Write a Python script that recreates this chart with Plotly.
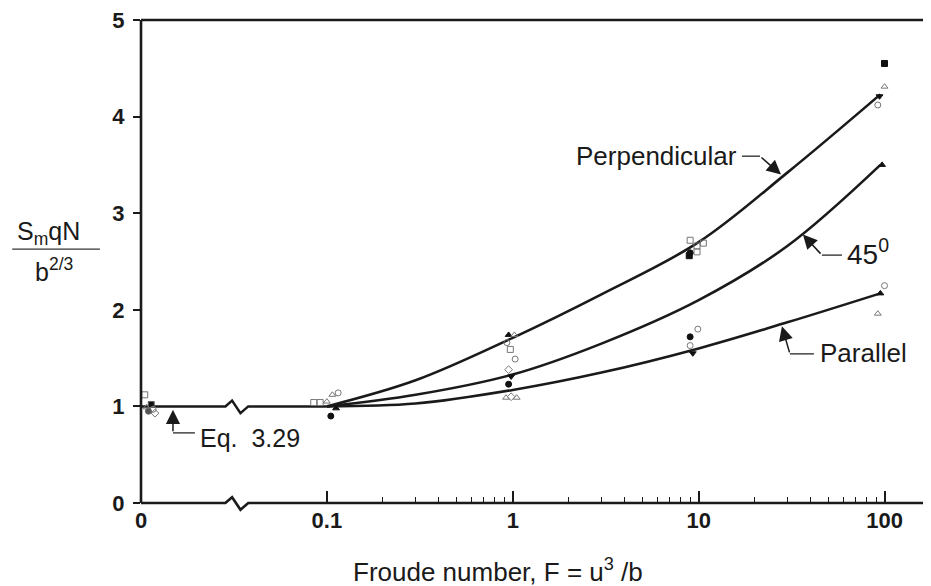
import numpy as np
import plotly.graph_objects as go

# ---------------- data ----------------
# fitted curves (Froude number F, S_m q N / b^(2/3))
F_nodes = [0.1, 0.3, 1, 3, 10, 30, 95]
perp_y = [1.0, 1.27, 1.71, 2.16, 2.70, 3.42, 4.23]
deg45_y = [1.0, 1.12, 1.33, 1.65, 2.10, 2.66, 3.50]
par_y = [1.0, 1.03, 1.17, 1.35, 1.60, 1.87, 2.17]

eq_level = 1.0          # Eq. 3.29 plateau value

x_tick_F = [0, 0.1, 1, 10, 100]
x_tick_labels = ["0", "0.1", "1", "10", "100"]
y_tick_vals = [0, 1, 2, 3, 4, 5]

# observations by marker type
sq_filled_F = [8.9, 100]
sq_filled_y = [2.56, 4.55]
sq_open_F = [0.085, 0.092, 0.97, 9.0, 10.6, 9.8, 9.8]
sq_open_y = [1.04, 1.04, 1.59, 2.72, 2.69, 2.66, 2.60]
circ_filled_F = [0.105, 0.95, 9.0, 9.0]
circ_filled_y = [0.90, 1.23, 2.59, 1.72]
circ_open_F = [0.115, 0.93, 1.03, 9.9, 9.0, 92, 100]
circ_open_y = [1.14, 1.66, 1.49, 1.80, 1.63, 4.12, 2.25]
tri_filled_F = [0.112, 0.95, 97, 95]
tri_filled_y = [0.98, 1.74, 3.50, 2.17]
tri_open_F = [0.1, 0.107, 1.02, 0.92, 1.05, 100, 92]
tri_open_y = [1.05, 1.12, 1.74, 1.09, 1.09, 4.31, 1.96]
tri_down_F = [0.98, 9.3, 94]
tri_down_y = [1.31, 1.55, 4.21]
dia_open_F = [0.95, 0.98]
dia_open_y = [1.38, 1.10]

# F = 0 observations (drawn just right of the origin)
zero_pos = [0.02, 0.055, 0.03, 0.065, 0.075, 0.04]
zero_y = [1.12, 1.02, 0.99, 0.97, 0.93, 0.95]
zero_sym = ["square-open", "square", "triangle-up-open", "circle-open",
            "diamond-open", "circle"]

# ---------------- broken axis mapping ----------------
LOG_OFFSET = 2.0   # position = log10(F) + 2  (0.1 -> 1)
X_MAX = 4.25
Y_MAX = 5.0


def pos(F):
    F = np.asarray(F, dtype=float)
    out = np.zeros_like(F)
    m = F > 0
    out[m] = np.log10(F[m]) + LOG_OFFSET
    return out


BREAK_X = [0.454, 0.49, 0.535, 0.577]
BREAK_DY = [0.0, 0.06, -0.07, 0.0]

FONT = "Liberation Sans, Arial, Helvetica, sans-serif"
INK = "#1a1a1a"

fig = go.Figure()

# plateau line with axis break
flat_x = [0.0] + BREAK_X + [pos([0.1])[0]]
flat_y = [eq_level] + [eq_level + d for d in BREAK_DY] + [eq_level]
fig.add_trace(go.Scatter(x=flat_x, y=flat_y, mode="lines",
                         line=dict(color=INK, width=2.5), hoverinfo="skip"))

# fitted curves
for ys in (perp_y, deg45_y, par_y):
    fig.add_trace(go.Scatter(x=pos(F_nodes), y=ys, mode="lines",
                             line=dict(color=INK, width=2.6, shape="spline",
                                       smoothing=1.0), hoverinfo="skip"))

# observations
groups = [
    (sq_filled_F, sq_filled_y, "square", "#111"),
    (sq_open_F, sq_open_y, "square-open", "#777"),
    (circ_filled_F, circ_filled_y, "circle", "#111"),
    (circ_open_F, circ_open_y, "circle-open", "#777"),
    (tri_filled_F, tri_filled_y, "triangle-up", "#111"),
    (tri_open_F, tri_open_y, "triangle-up-open", "#777"),
    (tri_down_F, tri_down_y, "triangle-down", "#111"),
    (dia_open_F, dia_open_y, "diamond-open", "#777"),
]
for fx, fy, sym, col in groups:
    fig.add_trace(go.Scatter(x=pos(fx), y=fy, mode="markers", cliponaxis=False,
                             marker=dict(symbol=sym, size=6, color=col,
                                         line=dict(width=1, color=col))))
fig.add_trace(go.Scatter(x=zero_pos, y=zero_y, mode="markers", cliponaxis=False,
                         marker=dict(symbol=zero_sym, size=6,
                                     color=["#777", "#111", "#777", "#777", "#777", "#555"],
                                     line=dict(width=1, color="#666"))))

# leader lines (horizontal parts)
leaders = [
    ([0.172, 0.29], [0.726, 0.726]),
    ([3.233, 3.33], [3.59, 3.59]),
    ([3.663, 3.771], [2.566, 2.566]),
    ([3.491, 3.62], [1.544, 1.544]),
]
for lx, ly in leaders:
    fig.add_trace(go.Scatter(x=lx, y=ly, mode="lines",
                             line=dict(color="#444", width=1.5), hoverinfo="skip"))

annotations = []
arrows = [  # tip (x, y), tail (x, y)
    (0.172, 0.965, 0.172, 0.726),
    (3.443, 3.40, 3.33, 3.59),
    (3.561, 2.78, 3.663, 2.566),
    (3.448, 1.83, 3.491, 1.544),
]
for tx, ty, ax, ay in arrows:
    annotations.append(dict(x=tx, y=ty, ax=ax, ay=ay, xref="x", yref="y",
                            axref="x", ayref="y", text="", showarrow=True,
                            arrowhead=2, arrowsize=1.9, arrowwidth=1.5,
                            arrowcolor=INK, standoff=0))

labels = [
    ("Eq.  3.29", 0.305, 0.675, "left", 25),
    ("Perpendicular", 3.215, 3.59, "right", 26),
    ("45<sup>0</sup>", 3.785, 2.60, "left", 28),
    ("Parallel", 3.64, 1.55, "left", 26),
]
for txt, lx, ly, anc, sz in labels:
    annotations.append(dict(x=lx, y=ly, xref="x", yref="y", text=txt,
                            showarrow=False, xanchor=anc, yanchor="middle",
                            font=dict(family=FONT, size=sz, color=INK)))

# axis titles
annotations.append(dict(x=0.452, y=0, xref="paper", yref="paper", yshift=-67,
                        text="Froude number, F = u<sup>3</sup> /b",
                        showarrow=False, xanchor="center", yanchor="middle",
                        font=dict(family=FONT, size=26, color=INK)))
annotations.append(dict(x=-0.1165, y=0.558, xref="paper", yref="paper",
                        text="S<sub>m</sub>qN", showarrow=False,
                        xanchor="center", yanchor="middle",
                        font=dict(family=FONT, size=25, color=INK)))
annotations.append(dict(x=-0.110, y=0.482, xref="paper", yref="paper",
                        text="b<sup>2/3</sup>", showarrow=False,
                        xanchor="center", yanchor="middle",
                        font=dict(family=FONT, size=25, color=INK)))

# frame: left, top, bottom (with break) in paper coords (not clipped)
def px(p):
    return p / X_MAX


def py(v):
    return v / Y_MAX


bottom_path = "M 0,0 L {:.4f},0 ".format(px(BREAK_X[0]))
for bx, bd in zip(BREAK_X[1:], BREAK_DY[1:]):
    bottom_path += "L {:.4f},{:.4f} ".format(px(bx), py(bd))
bottom_path += "L 1,0"

shapes = [
    dict(type="line", xref="paper", yref="paper", x0=0, x1=0, y0=0, y1=1,
         line=dict(color=INK, width=2.6)),
    dict(type="line", xref="paper", yref="paper", x0=0, x1=1, y0=1, y1=1,
         line=dict(color=INK, width=2.6)),
    dict(type="path", xref="paper", yref="paper", path=bottom_path,
         line=dict(color=INK, width=2.6)),
    dict(type="line", xref="paper", yref="paper", x0=-0.163, x1=-0.052,
         y0=0.5256, y1=0.5256, line=dict(color="#333", width=1.2)),
]

minor_vals = [float(pos([k * 10.0 ** d])[0]) for d in (-1, 0, 1) for k in range(2, 10)]

# page body has an 8 px margin; size and margins compensate for it
fig.update_layout(
    width=923, height=578,
    margin=dict(l=133, r=0, t=6, b=83),
    paper_bgcolor="white", plot_bgcolor="white",
    showlegend=False,
    annotations=annotations, shapes=shapes,
    xaxis=dict(range=[0, X_MAX], showline=False, showgrid=False, zeroline=False,
               tickmode="array", tickvals=pos(x_tick_F).tolist(),
               ticktext=x_tick_labels, ticks="inside", ticklen=12,
               tickwidth=1.5, tickcolor=INK, ticklabelstandoff=2,
               tickfont=dict(family=FONT, size=22, color=INK, weight="bold"),
               minor=dict(tickmode="array", tickvals=minor_vals, ticks="inside",
                          ticklen=6, tickwidth=1.2, tickcolor=INK)),
    yaxis=dict(range=[0, Y_MAX], showline=False, showgrid=False, zeroline=False,
               tickmode="array", tickvals=y_tick_vals, ticks="outside",
               ticklen=7, tickwidth=1.5, tickcolor=INK, ticklabelstandoff=4,
               ticklabeloverflow="allow",
               tickfont=dict(family=FONT, size=22, color=INK, weight="bold")),
)

fig.write_html("out.html")
